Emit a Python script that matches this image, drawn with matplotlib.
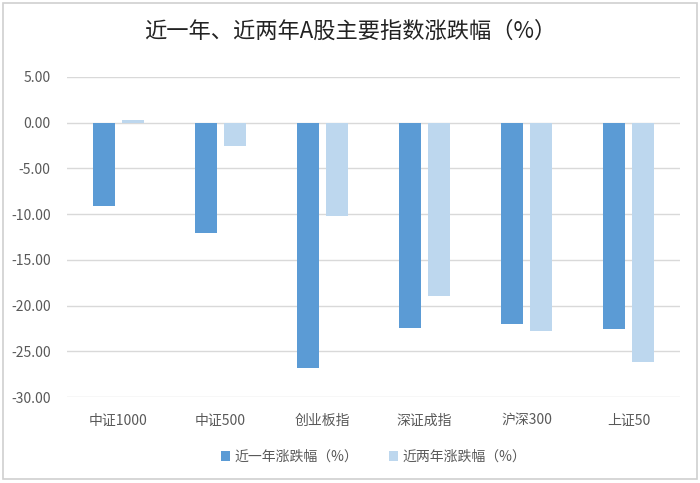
import numpy as np
import matplotlib.pyplot as plt
from matplotlib.patches import Rectangle

plt.rcParams['font.family'] = ['Noto Sans CJK SC', 'DejaVu Sans']

categories = ['中证1000', '中证500', '创业板指', '深证成指', '沪深300', '上证50']
one_year = [-9.1, -12.1, -26.8, -22.5, -22.0, -22.6]
two_year = [0.3, -2.6, -10.2, -19.0, -22.8, -26.2]
series_names = ['近一年涨跌幅（%）', '近两年涨跌幅（%）']
title = '近一年、近两年A股主要指数涨跌幅（%）'

fig = plt.figure(figsize=(7, 4.83), dpi=100)
ax = fig.add_axes([0.096, 0.178, 0.875, 0.663])

x = np.arange(len(categories))
w = 0.215
off = 0.143
ax.bar(x - off, one_year, w, color='#5B9BD5', label=series_names[0], zorder=3)
ax.bar(x + off, two_year, w, color='#BDD7EE', label=series_names[1], zorder=3)

ax.set_xlim(-0.5, len(categories) - 0.5)
ax.set_ylim(-30, 5)
ax.set_yticks(np.arange(-30, 6, 5))
ax.set_yticklabels([f'{v:.2f}' for v in np.arange(-30, 6, 5)])
ax.set_xticks(x)
ax.set_xticklabels(categories)
ax.tick_params(axis='both', length=0, labelsize=10, colors='#595959')
ax.tick_params(axis='x', pad=12)
ax.tick_params(axis='y', pad=12)
ax.grid(axis='y', color='#D9D9D9', linewidth=1, zorder=0)
for s in ax.spines.values():
    s.set_visible(False)

fig.text(0.5, 0.935, title, ha='center', va='center', fontsize=16, color='#222222')

leg = ax.legend(loc='upper center', bbox_to_anchor=(0.5, -0.125), ncol=2, frameon=False,
                fontsize=10, handlelength=0.7, handleheight=0.7, columnspacing=2.2,
                handletextpad=0.3)
for t in leg.get_texts():
    t.set_color('#595959')

fig.patches.append(Rectangle((0.004, 0.008), 0.992, 0.986, transform=fig.transFigure,
                             fill=False, edgecolor='#D0D0D0', linewidth=1.2))

fig.savefig('out.png', dpi=100)
